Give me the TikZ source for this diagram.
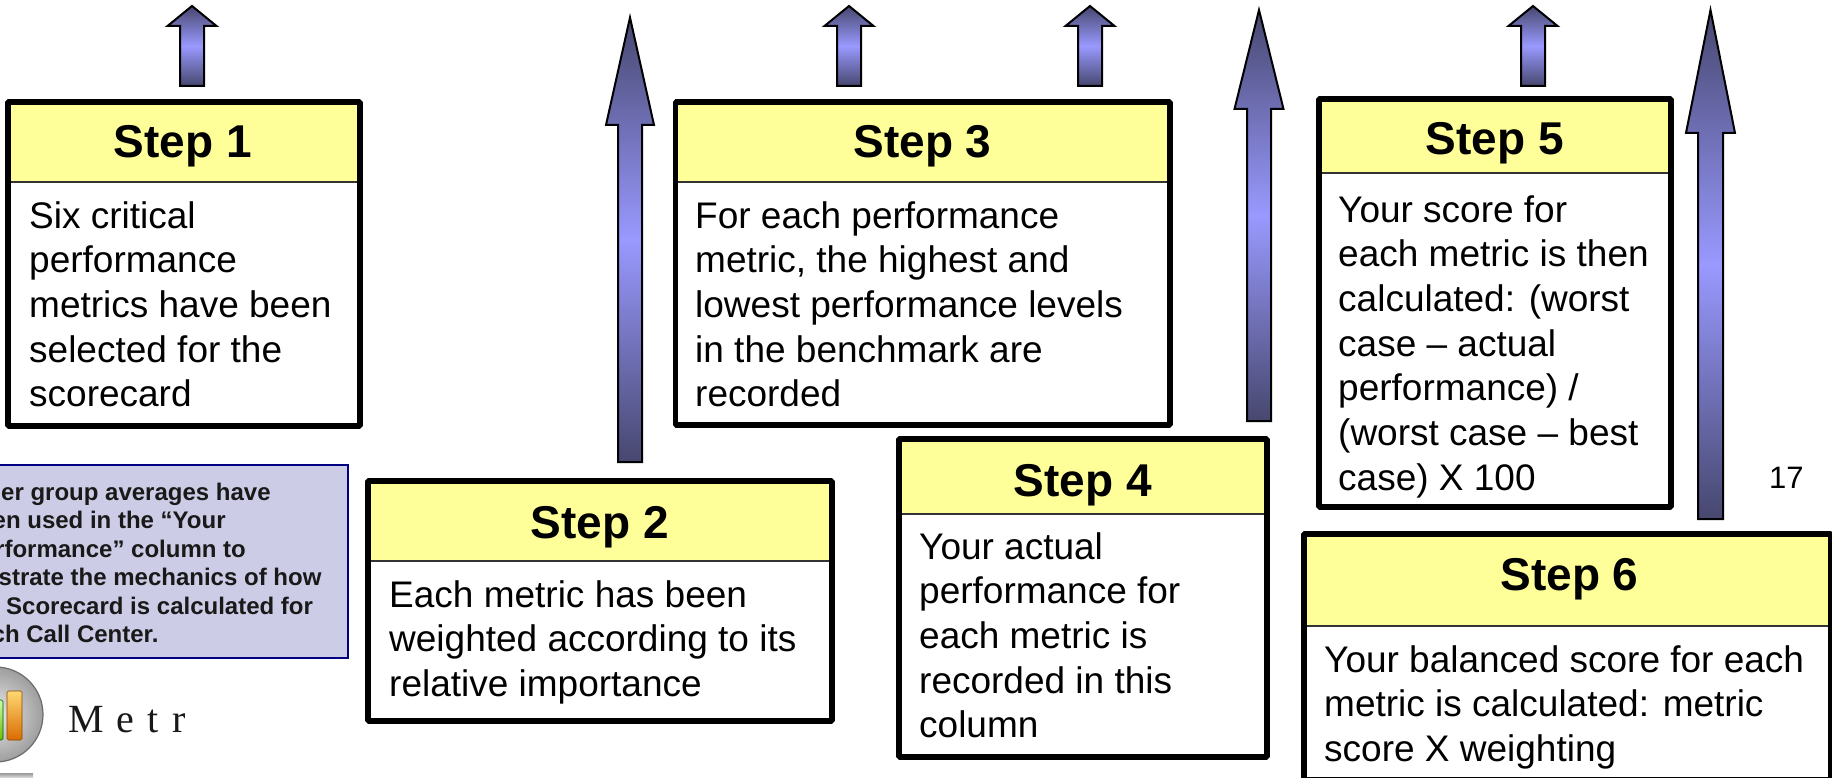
\documentclass[tikz,border=0pt]{standalone}
\usepackage{fontspec}
\setmainfont{Liberation Sans}
\newfontfamily\logofont{Liberation Serif}
\definecolor{headyellow}{HTML}{FFFF99}
\definecolor{arrowdark}{HTML}{47476F}
\definecolor{arrowlight}{HTML}{9999FF}
\definecolor{noteblue}{HTML}{CCCCE6}
\definecolor{notenavy}{HTML}{000080}
\tikzset{
  boxframe/.style={draw=black,line width=5.6pt,line join=bevel},
  headfill/.style={fill=headyellow},
  headrule/.style={draw=black!80,line width=1.8pt},
  steptitle/.style={anchor=base,inner sep=0pt,font=\fontsize{46}{52}\selectfont\bfseries},
  bodytext/.style={anchor=north west,inner sep=0pt,align=left,font=\fontsize{37}{44.7}\selectfont},
  upshape/.style={draw=black,line width=2pt,line join=miter,top color=arrowdark,bottom color=arrowdark,middle color=arrowlight},
  noteline/.style={anchor=base west,inner sep=0pt,text=black!90,font=\fontsize{24}{28}\selectfont\bfseries},
}
% name, x1, y1, x2, y2, header bottom, title centre x, title baseline, title
\newcommand{\stepcard}[9]{
  \path[headfill] (#2,#3) rectangle (#4,#6);
  \draw[headrule] (#2,#6) -- (#4,#6);
  \draw[boxframe] (#2,#3) rectangle (#4,#5);
  \node[steptitle] (#1) at (#7,#8) {#9};
}
% tip x, tip y, head half width, head base y, shaft half width, bottom y
\newcommand{\uparrowshape}[6]{
  \draw[upshape] (#1,#2) -- ({#1+#3},#4) -- ({#1+#5},#4) -- ({#1+#5},#6) -- ({#1-#5},#6) -- ({#1-#5},#4) -- ({#1-#3},#4) -- cycle;
}
\begin{document}
\begin{tikzpicture}[x=1pt,y=-1pt]
\useasboundingbox (0,0) rectangle (1832,778);
\clip (0,0) rectangle (1832,778);
% small arrows
\uparrowshape{192}{6}{24.5}{26}{12}{86}
\uparrowshape{849}{6}{24.5}{26}{12}{86}
\uparrowshape{1090}{6}{24.5}{26}{12}{86}
\uparrowshape{1533}{6}{24.5}{26}{12}{86}
% tall arrows
\uparrowshape{630}{17.5}{24}{125}{12}{462}
\uparrowshape{1259}{10}{24.5}{109}{12}{421}
\uparrowshape{1710.5}{10}{24.5}{133}{12.5}{519}
% step cards
\stepcard{s1}{8}{102}{360}{426}{182}{183}{158}{Step 1}
\node[bodytext] (t1) at (29,196.7) {\strut Six critical\\performance\\metrics have been\\selected for the\\scorecard};
\stepcard{s2}{368}{481}{832}{721}{561}{600}{538}{Step 2}
\node[bodytext] (t2) at (389,575.7) {\strut Each metric has been\\weighted according to its\\relative importance};
\stepcard{s3}{675.5}{102}{1170}{425}{182}{922.5}{158}{Step 3}
\node[bodytext] (t3) at (695,196.7) {\strut For each performance\\metric, the highest and\\lowest performance levels\\in the benchmark are\\recorded};
\stepcard{s4}{899}{439}{1267}{757}{514}{1083}{496}{Step 4}
\node[bodytext] (t4) at (919,527.7) {\strut Your actual\\performance for\\each metric is\\recorded in this\\column};
\stepcard{s5}{1319}{99}{1671}{507}{173}{1495}{155}{Step 5}
\node[bodytext] (t5) at (1338,190.7) {\strut Your score for\\each metric is then\\calculated: (worst\\case -- actual\\performance) /\\(worst case -- best\\case) X 100};
\stepcard{s6}{1304}{534}{1831}{780}{626}{1569.5}{590}{Step 6}
\node[bodytext] (t6) at (1324,640.7) {\strut Your balanced score for each\\metric is calculated: metric\\score X weighting};
% page number
\node[anchor=base west,inner sep=0pt,font=\fontsize{31}{36}\selectfont] (pg) at (1769,488) {17};
% note
\draw[fill=noteblue,draw=notenavy,line width=1.6pt] (-5,465) rectangle (348,658);
\node[noteline] (n1) at (1,500) {er group averages have};
\node[noteline] (n2) at (-7.5,528.5) {en used in the “Your};
\node[noteline] (n3) at (-5,557) {rformance” column to};
\node[noteline] (n4) at (-1.5,585.5) {strate the mechanics of how};
\node[noteline] (n5) at (6,614) {Scorecard is calculated for};
\node[noteline] (n6) at (-8.5,642.5) {ch Call Center.};
% logo
\shade[shading=radial,inner color=white!92!black,outer color=black!38] (-4.5,714.5) circle (47.5);
\draw[black!58,line width=1.2pt] (-4.5,714.5) circle (47.5);
\draw[top color=yellow!45!orange!55,bottom color=orange!85!black,draw=orange!55!black,rounded corners=1.5pt,line width=.7pt] (7,691) rectangle (22,740);
\draw[top color=yellow!40!green!35,bottom color=green!45!yellow!75!black,draw=green!35!black,rounded corners=1.5pt,line width=.7pt] (-9,700) rectangle (3,740);
\shade[top color=black!40,bottom color=black!12] (-10,773) rectangle (33,778);
\node[anchor=base west,inner sep=0pt,text=black!90,font={\logofont\fontsize{40}{46}\selectfont}] (logo) at (68,732) {M\hspace{12.4pt}e\hspace{14pt}t\hspace{13pt}r};
\end{tikzpicture}
\end{document}
